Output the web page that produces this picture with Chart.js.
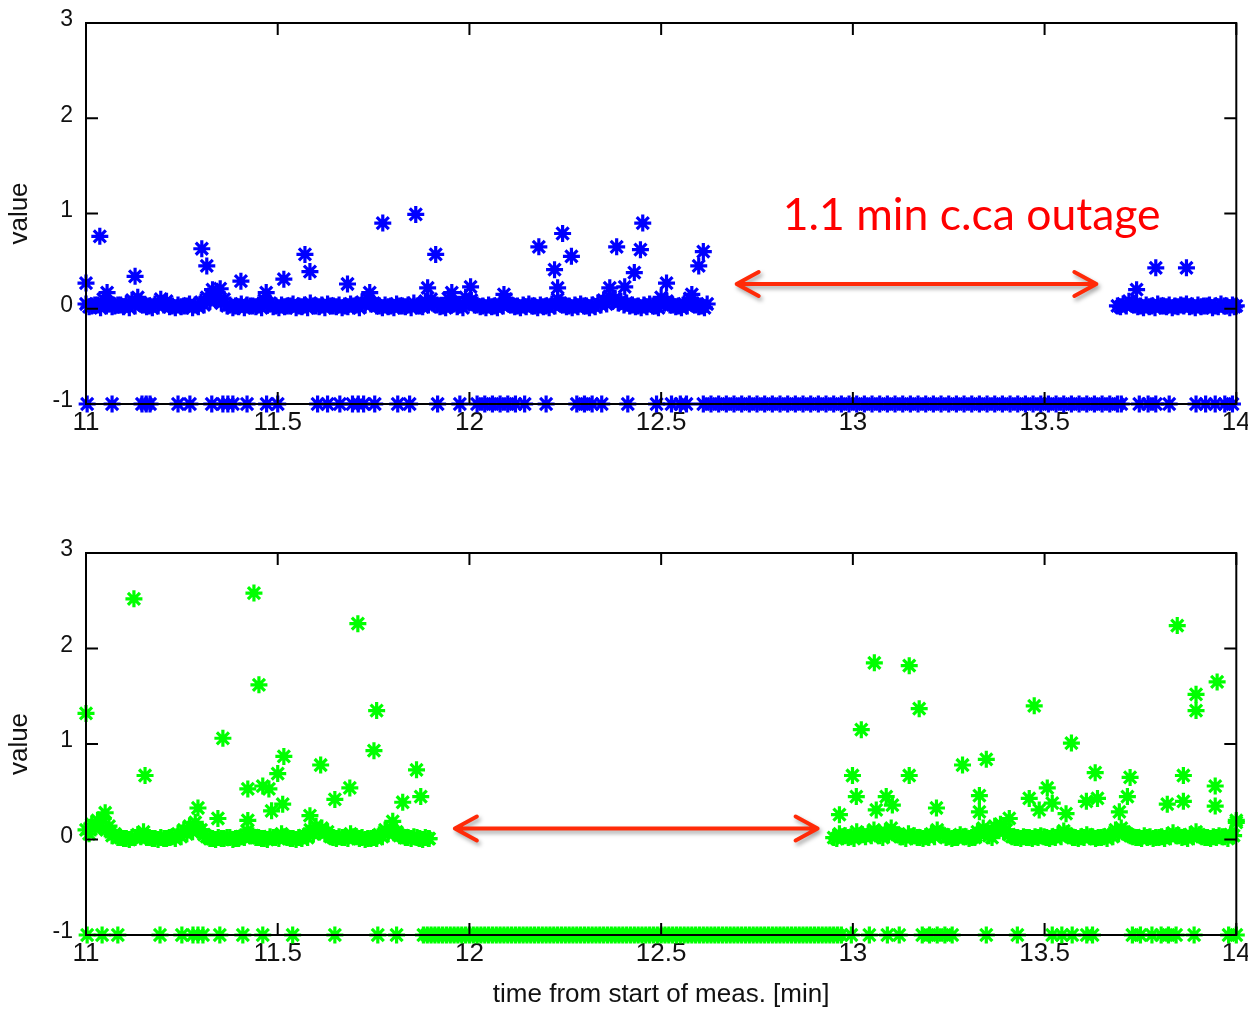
<!DOCTYPE html>
<html lang="en">
<head>
<meta charset="UTF-8">
<title>Outage scatter</title>
<script src="https://cdn.jsdelivr.net/npm/chart.js"></script>
<style>
  body { margin: 0; background: #fff; }
  canvas { position: absolute; left: 0; }
  #topChart { top: 0; }
  #bottomChart { top: 470px; }
</style>
</head>
<body>
<canvas id="topChart" width="1248" height="470"></canvas>
<canvas id="bottomChart" width="1248" height="541"></canvas>

<script>
// ---- top (blue) series ----
const floorValue = -1;

const blueFloorX = [
  11.003, 11.068, 11.146, 11.157, 11.167, 11.240, 11.271, 11.328, 11.357, 11.370,
  11.383, 11.420, 11.471, 11.500, 11.604, 11.630, 11.662, 11.695, 11.710, 11.724,
  11.753, 11.813, 11.844, 11.917, 11.975, 12.020, 12.040, 12.060, 12.080, 12.100,
  12.120, 12.144, 12.200, 12.280, 12.300, 12.320, 12.345, 12.413, 12.488, 12.527,
  12.550, 12.566,
  12.610, 12.630, 12.650, 12.670, 12.690, 12.710, 12.730, 12.750, 12.770, 12.790,
  12.810, 12.830, 12.850, 12.870, 12.890, 12.910, 12.930, 12.950, 12.970, 12.990,
  13.010, 13.030, 13.050, 13.070, 13.090, 13.110, 13.130, 13.150, 13.170, 13.190,
  13.210, 13.230, 13.250, 13.270, 13.290, 13.310, 13.330, 13.350, 13.370, 13.390,
  13.410, 13.430, 13.450, 13.470, 13.490, 13.510, 13.530, 13.550, 13.570, 13.590,
  13.610, 13.630, 13.650, 13.670, 13.690, 13.700,
  13.747, 13.770, 13.790, 13.825, 13.895, 13.920, 13.945, 13.970, 13.990
];

// the dense band near zero, first pass
const blueBandX = [
  11.000, 11.015, 11.030, 11.045, 11.060, 11.075, 11.090, 11.105, 11.120, 11.135,
  11.150, 11.165, 11.180, 11.195, 11.210, 11.225, 11.240, 11.255, 11.270, 11.285,
  11.300, 11.315, 11.330, 11.345, 11.360, 11.375, 11.390, 11.405, 11.420, 11.435,
  11.450, 11.465, 11.480, 11.495, 11.510, 11.525, 11.540, 11.555, 11.570, 11.585,
  11.600, 11.615, 11.630, 11.645, 11.660, 11.675, 11.690, 11.705, 11.720, 11.735,
  11.750, 11.765, 11.780, 11.795, 11.810, 11.825, 11.840, 11.855, 11.870, 11.885,
  11.900, 11.915, 11.930, 11.945, 11.960, 11.975, 11.990, 12.005, 12.020, 12.035,
  12.050, 12.065, 12.080, 12.095, 12.110, 12.125, 12.140, 12.155, 12.170, 12.185,
  12.200, 12.215, 12.230, 12.245, 12.260, 12.275, 12.290, 12.305, 12.320, 12.335,
  12.350, 12.365, 12.380, 12.395, 12.410, 12.425, 12.440, 12.455, 12.470, 12.485,
  12.500, 12.515, 12.530, 12.545, 12.560, 12.575, 12.590, 12.605, 12.620,
  13.690, 13.705, 13.720, 13.735, 13.750, 13.765, 13.780, 13.795, 13.810, 13.825,
  13.840, 13.855, 13.870, 13.885, 13.900, 13.915, 13.930, 13.945, 13.960, 13.975,
  13.990, 14.000
];
const blueBandY = [
  0.05, 0.03, 0.04, 0.10, 0.06, 0.03, 0.04, 0.05, 0.09, 0.12,
  0.04, 0.03, 0.05, 0.10, 0.08, 0.03, 0.04, 0.03, 0.05, 0.04,
  0.07, 0.12, 0.15, 0.13, 0.10, 0.04, 0.03, 0.05, 0.04, 0.03,
  0.04, 0.09, 0.06, 0.03, 0.04, 0.03, 0.05, 0.03, 0.04, 0.06,
  0.03, 0.04, 0.05, 0.03, 0.04, 0.03, 0.05, 0.04, 0.07, 0.11,
  0.06, 0.03, 0.04, 0.03, 0.05, 0.03, 0.04, 0.06, 0.03, 0.08,
  0.10, 0.04, 0.03, 0.11, 0.05, 0.04, 0.12, 0.09, 0.04, 0.03,
  0.04, 0.03, 0.05, 0.10, 0.04, 0.03, 0.04, 0.05, 0.03, 0.04,
  0.03, 0.05, 0.10, 0.04, 0.03, 0.04, 0.05, 0.03, 0.04, 0.06,
  0.09, 0.13, 0.11, 0.08, 0.06, 0.04, 0.03, 0.04, 0.05, 0.03,
  0.12, 0.08, 0.04, 0.03, 0.05, 0.11, 0.04, 0.03, 0.05,
  0.03, 0.05, 0.08, 0.04, 0.03, 0.04, 0.03, 0.05, 0.03, 0.04,
  0.03, 0.04, 0.05, 0.03, 0.04, 0.03, 0.04, 0.03, 0.05, 0.03,
  0.04, 0.03
];
// second pass, sampled in between
const blueBandX2 = [
  11.008, 11.023, 11.038, 11.053, 11.068, 11.083, 11.098, 11.113, 11.128, 11.143,
  11.158, 11.173, 11.188, 11.203, 11.218, 11.233, 11.248, 11.263, 11.278, 11.293,
  11.308, 11.323, 11.338, 11.353, 11.368, 11.383, 11.398, 11.413, 11.428, 11.443,
  11.458, 11.473, 11.488, 11.503, 11.518, 11.533, 11.548, 11.563, 11.578, 11.593,
  11.608, 11.623, 11.638, 11.653, 11.668, 11.683, 11.698, 11.713, 11.728, 11.743,
  11.758, 11.773, 11.788, 11.803, 11.818, 11.833, 11.848, 11.863, 11.878, 11.893,
  11.908, 11.923, 11.938, 11.953, 11.968, 11.983, 11.998, 12.013, 12.028, 12.043,
  12.058, 12.073, 12.088, 12.103, 12.118, 12.133, 12.148, 12.163, 12.178, 12.193,
  12.208, 12.223, 12.238, 12.253, 12.268, 12.283, 12.298, 12.313, 12.328, 12.343,
  12.358, 12.373, 12.388, 12.403, 12.418, 12.433, 12.448, 12.463, 12.478, 12.493,
  12.508, 12.523, 12.538, 12.553, 12.568, 12.583, 12.598, 12.613,
  13.698, 13.713, 13.728, 13.743, 13.758, 13.773, 13.788, 13.803, 13.818, 13.833,
  13.848, 13.863, 13.878, 13.893, 13.908, 13.923, 13.938, 13.953, 13.968, 13.983,
  13.995
];
const blueBandY2 = [
  0.02, 0.04, 0.01, 0.03, 0.02, 0.04, 0.02, 0.01, 0.03, 0.06,
  0.02, 0.01, 0.03, 0.04, 0.02, 0.01, 0.02, 0.03, 0.01, 0.02,
  0.04, 0.08, 0.10, 0.06, 0.03, 0.01, 0.02, 0.01, 0.03, 0.02,
  0.01, 0.04, 0.02, 0.01, 0.02, 0.03, 0.01, 0.02, 0.01, 0.03,
  0.02, 0.01, 0.03, 0.02, 0.01, 0.02, 0.03, 0.01, 0.04, 0.05,
  0.03, 0.01, 0.02, 0.01, 0.03, 0.02, 0.01, 0.03, 0.02, 0.04,
  0.05, 0.02, 0.01, 0.06, 0.02, 0.01, 0.07, 0.04, 0.02, 0.01,
  0.02, 0.01, 0.03, 0.05, 0.02, 0.01, 0.02, 0.03, 0.01, 0.02,
  0.01, 0.03, 0.06, 0.02, 0.01, 0.02, 0.03, 0.01, 0.02, 0.04,
  0.05, 0.08, 0.06, 0.04, 0.03, 0.02, 0.01, 0.02, 0.03, 0.01,
  0.06, 0.04, 0.02, 0.01, 0.03, 0.06, 0.02, 0.01,
  0.02, 0.03, 0.05, 0.02, 0.01, 0.02, 0.01, 0.03, 0.02, 0.01,
  0.02, 0.03, 0.02, 0.01, 0.02, 0.03, 0.01, 0.02, 0.03, 0.01,
  0.02
];

const blueSpikes = [
  [11.000, 0.27], [11.036, 0.76], [11.055, 0.17], [11.128, 0.34], [11.302, 0.63],
  [11.315, 0.45], [11.330, 0.20], [11.350, 0.21], [11.404, 0.29], [11.470, 0.17],
  [11.516, 0.31], [11.571, 0.57], [11.584, 0.39], [11.682, 0.26], [11.740, 0.17],
  [11.774, 0.90], [11.860, 0.99], [11.891, 0.22], [11.912, 0.57], [11.954, 0.17],
  [12.003, 0.23], [12.090, 0.15], [12.181, 0.65], [12.222, 0.41], [12.230, 0.22],
  [12.243, 0.79], [12.266, 0.55], [12.366, 0.22], [12.384, 0.65], [12.405, 0.23],
  [12.430, 0.38], [12.446, 0.62], [12.452, 0.90], [12.514, 0.27], [12.580, 0.15],
  [12.598, 0.45], [12.610, 0.60], [13.740, 0.20], [13.790, 0.43], [13.870, 0.43]
];

// ---- bottom (green) series ----
const greenFloorX = [
  11.003, 11.042, 11.083, 11.193, 11.250, 11.279, 11.292, 11.305, 11.349, 11.409,
  11.461, 11.539, 11.649, 11.761, 11.810,
  11.88, 11.89, 11.90, 11.91, 11.92, 11.93, 11.94, 11.95, 11.96, 11.97,
  11.98, 11.99, 12.00, 12.01, 12.02, 12.03, 12.04, 12.05, 12.06, 12.07,
  12.08, 12.09, 12.10, 12.11, 12.12, 12.13, 12.14, 12.15, 12.16, 12.17,
  12.18, 12.19, 12.20, 12.21, 12.22, 12.23, 12.24, 12.25, 12.26, 12.27,
  12.28, 12.29, 12.30, 12.31, 12.32, 12.33, 12.34, 12.35, 12.36, 12.37,
  12.38, 12.39, 12.40, 12.41, 12.42, 12.43, 12.44, 12.45, 12.46, 12.47,
  12.48, 12.49, 12.50, 12.51, 12.52, 12.53, 12.54, 12.55, 12.56, 12.57,
  12.58, 12.59, 12.60, 12.61, 12.62, 12.63, 12.64, 12.65, 12.66, 12.67,
  12.68, 12.69, 12.70, 12.71, 12.72, 12.73, 12.74, 12.75, 12.76, 12.77,
  12.78, 12.79, 12.80, 12.81, 12.82, 12.83, 12.84, 12.85, 12.86, 12.87,
  12.88, 12.89, 12.90, 12.91, 12.92, 12.93, 12.94, 12.95, 12.96, 12.97,
  12.996, 13.043, 13.090, 13.121, 13.181, 13.200, 13.220, 13.240, 13.259, 13.348,
  13.429, 13.520, 13.545, 13.572, 13.610, 13.625, 13.729, 13.750, 13.780, 13.804,
  13.823, 13.843, 13.890, 13.980, 14.000
];

const greenBandX = [
  11.000, 11.015, 11.030, 11.045, 11.060, 11.075, 11.090, 11.105, 11.120, 11.135,
  11.150, 11.165, 11.180, 11.195, 11.210, 11.225, 11.240, 11.255, 11.270, 11.285,
  11.300, 11.315, 11.330, 11.345, 11.360, 11.375, 11.390, 11.405, 11.420, 11.435,
  11.450, 11.465, 11.480, 11.495, 11.510, 11.525, 11.540, 11.555, 11.570, 11.585,
  11.600, 11.615, 11.630, 11.645, 11.660, 11.675, 11.690, 11.705, 11.720, 11.735,
  11.750, 11.765, 11.780, 11.795, 11.810, 11.825, 11.840, 11.855, 11.870, 11.885,
  11.895,
  12.950, 12.965, 12.980, 12.995, 13.010, 13.025, 13.040, 13.055, 13.070, 13.085,
  13.100, 13.115, 13.130, 13.145, 13.160, 13.175, 13.190, 13.205, 13.220, 13.235,
  13.250, 13.265, 13.280, 13.295, 13.310, 13.325, 13.340, 13.355, 13.370, 13.385,
  13.400, 13.415, 13.430, 13.445, 13.460, 13.475, 13.490, 13.505, 13.520, 13.535,
  13.550, 13.565, 13.580, 13.595, 13.610, 13.625, 13.640, 13.655, 13.670, 13.685,
  13.700, 13.715, 13.730, 13.745, 13.760, 13.775, 13.790, 13.805, 13.820, 13.835,
  13.850, 13.865, 13.880, 13.895, 13.910, 13.925, 13.940, 13.955, 13.970, 13.985,
  14.000
];
const greenBandY = [
  0.10, 0.16, 0.20, 0.22, 0.14, 0.06, 0.02, 0.01, 0.02, 0.05,
  0.08, 0.02, 0.01, 0.02, 0.01, 0.03, 0.06, 0.10, 0.14, 0.18,
  0.10, 0.03, 0.01, 0.02, 0.01, 0.02, 0.01, 0.03, 0.09, 0.04,
  0.02, 0.01, 0.03, 0.02, 0.06, 0.02, 0.01, 0.02, 0.04, 0.10,
  0.14, 0.12, 0.08, 0.02, 0.03, 0.02, 0.06, 0.03, 0.02, 0.01,
  0.02, 0.05, 0.10, 0.12, 0.08, 0.04, 0.02, 0.03, 0.01, 0.02,
  0.01,
  0.02, 0.06, 0.04, 0.03, 0.08, 0.05, 0.06, 0.10, 0.04, 0.08,
  0.12, 0.05, 0.03, 0.06, 0.04, 0.02, 0.03, 0.06, 0.10, 0.05,
  0.03, 0.02, 0.05, 0.03, 0.02, 0.08, 0.12, 0.04, 0.14, 0.16,
  0.10, 0.03, 0.02, 0.03, 0.02, 0.03, 0.04, 0.02, 0.03, 0.05,
  0.09, 0.04, 0.02, 0.03, 0.05, 0.03, 0.02, 0.03, 0.05, 0.10,
  0.12, 0.06, 0.03, 0.02, 0.04, 0.03, 0.02, 0.03, 0.04, 0.07,
  0.04, 0.03, 0.05, 0.08, 0.03, 0.02, 0.03, 0.04, 0.03, 0.05,
  0.18
];
const greenBandX2 = [
  11.008, 11.023, 11.038, 11.053, 11.068, 11.083, 11.098, 11.113, 11.128, 11.143,
  11.158, 11.173, 11.188, 11.203, 11.218, 11.233, 11.248, 11.263, 11.278, 11.293,
  11.308, 11.323, 11.338, 11.353, 11.368, 11.383, 11.398, 11.413, 11.428, 11.443,
  11.458, 11.473, 11.488, 11.503, 11.518, 11.533, 11.548, 11.563, 11.578, 11.593,
  11.608, 11.623, 11.638, 11.653, 11.668, 11.683, 11.698, 11.713, 11.728, 11.743,
  11.758, 11.773, 11.788, 11.803, 11.818, 11.833, 11.848, 11.863, 11.878, 11.893,
  12.958, 12.973, 12.988, 13.003, 13.018, 13.033, 13.048, 13.063, 13.078, 13.093,
  13.108, 13.123, 13.138, 13.153, 13.168, 13.183, 13.198, 13.213, 13.228, 13.243,
  13.258, 13.273, 13.288, 13.303, 13.318, 13.333, 13.348, 13.363, 13.378, 13.393,
  13.408, 13.423, 13.438, 13.453, 13.468, 13.483, 13.498, 13.513, 13.528, 13.543,
  13.558, 13.573, 13.588, 13.603, 13.618, 13.633, 13.648, 13.663, 13.678, 13.693,
  13.708, 13.723, 13.738, 13.753, 13.768, 13.783, 13.798, 13.813, 13.828, 13.843,
  13.858, 13.873, 13.888, 13.903, 13.918, 13.933, 13.948, 13.963, 13.978, 13.993
];
const greenBandY2 = [
  0.06, 0.12, 0.14, 0.10, 0.04, 0.02, 0.01, 0.00, 0.02, 0.03,
  0.02, 0.01, 0.00, 0.01, 0.02, 0.01, 0.03, 0.06, 0.08, 0.10,
  0.05, 0.01, 0.00, 0.01, 0.02, 0.00, 0.01, 0.02, 0.04, 0.02,
  0.01, 0.00, 0.02, 0.01, 0.03, 0.01, 0.00, 0.01, 0.02, 0.06,
  0.08, 0.06, 0.03, 0.01, 0.02, 0.01, 0.03, 0.01, 0.00, 0.01,
  0.01, 0.03, 0.06, 0.07, 0.04, 0.02, 0.01, 0.02, 0.00, 0.01,
  0.01, 0.03, 0.02, 0.01, 0.04, 0.03, 0.04, 0.06, 0.02, 0.05,
  0.07, 0.03, 0.01, 0.03, 0.02, 0.01, 0.02, 0.03, 0.06, 0.02,
  0.01, 0.02, 0.03, 0.01, 0.02, 0.05, 0.08, 0.02, 0.10, 0.08,
  0.05, 0.02, 0.01, 0.02, 0.01, 0.02, 0.03, 0.01, 0.02, 0.03,
  0.06, 0.02, 0.01, 0.02, 0.03, 0.01, 0.02, 0.01, 0.03, 0.06,
  0.08, 0.04, 0.02, 0.01, 0.02, 0.01, 0.02, 0.01, 0.03, 0.04,
  0.02, 0.01, 0.03, 0.05, 0.02, 0.01, 0.02, 0.03, 0.01, 0.04
];

const greenSpikes = [
  [11.000, 1.32], [11.050, 0.28], [11.125, 2.52], [11.154, 0.67], [11.292, 0.33],
  [11.344, 0.22], [11.357, 1.06], [11.422, 0.53], [11.422, 0.20], [11.438, 2.58],
  [11.451, 1.62], [11.461, 0.56], [11.477, 0.53], [11.484, 0.30], [11.500, 0.69],
  [11.513, 0.37], [11.516, 0.87], [11.584, 0.25], [11.612, 0.78], [11.649, 0.42],
  [11.688, 0.54], [11.709, 2.26], [11.751, 0.93], [11.758, 1.35], [11.800, 0.19],
  [11.826, 0.39], [11.862, 0.73], [11.873, 0.45],
  [12.965, 0.26], [12.999, 0.67], [13.009, 0.45], [13.022, 1.15], [13.056, 1.85],
  [13.061, 0.31], [13.087, 0.45], [13.103, 0.36], [13.147, 1.82], [13.147, 0.67],
  [13.173, 1.37], [13.218, 0.33], [13.286, 0.78], [13.330, 0.46], [13.330, 0.29],
  [13.348, 0.84], [13.408, 0.22], [13.460, 0.43], [13.473, 1.40], [13.486, 0.31],
  [13.507, 0.54], [13.520, 0.38], [13.556, 0.27], [13.570, 1.01], [13.609, 0.40],
  [13.632, 0.70], [13.638, 0.43], [13.695, 0.29], [13.716, 0.45], [13.723, 0.65],
  [13.820, 0.37], [13.846, 2.24], [13.862, 0.67], [13.862, 0.40], [13.895, 1.52],
  [13.895, 1.35], [13.945, 0.56], [13.945, 0.35], [13.950, 1.65], [14.000, 0.20]
];

// annotations (in data units)
const topArrow = { from: 12.697, to: 13.635, at: 0.26 };
const topNote = { text: '1.1 min c.ca outage', x: 12.817, y: 0.83 };
const bottomArrow = { from: 11.962, to: 12.908, at: 0.115 };

const zip = (xs, ys) => xs.map((x, i) => ({ x: x, y: ys[i] }));
const onFloor = xs => xs.map(x => ({ x: x, y: floorValue }));
const pairs = list => list.map(p => ({ x: p[0], y: p[1] }));

const xTickFont = { family: 'Liberation Sans', size: 26 };
const yTickFont = { family: 'Liberation Sans', size: 23 };
const titleFont = { family: 'Liberation Sans', size: 26 };

// matlab-ish box with inward ticks, plus the red arrows/note
const boxPlugin = {
  id: 'box',
  afterDatasetsDraw(chart, args, opts) {
    const ctx = chart.ctx;
    const { left, top, right, bottom } = chart.chartArea;
    const xs = chart.scales.x, ys = chart.scales.y;
    ctx.save();
    ctx.strokeStyle = '#000';
    ctx.lineWidth = 2;
    ctx.strokeRect(left, top, right - left, bottom - top);
    ctx.beginPath();
    xs.ticks.forEach(t => {
      const px = xs.getPixelForValue(t.value);
      ctx.moveTo(px, bottom); ctx.lineTo(px, bottom - 12);
      ctx.moveTo(px, top); ctx.lineTo(px, top + 12);
    });
    ys.ticks.forEach(t => {
      const py = ys.getPixelForValue(t.value);
      ctx.moveTo(left, py); ctx.lineTo(left + 12, py);
      ctx.moveTo(right, py); ctx.lineTo(right - 12, py);
    });
    ctx.stroke();
    ctx.restore();

    if (opts.arrow) {
      const a = opts.arrow;
      const x1 = xs.getPixelForValue(a.from), x2 = xs.getPixelForValue(a.to);
      const y = ys.getPixelForValue(a.at);
      ctx.save();
      ctx.strokeStyle = '#ff2a08';
      ctx.lineWidth = 4;
      ctx.lineCap = 'round';
      ctx.lineJoin = 'round';
      ctx.shadowColor = 'rgba(0,0,0,0.35)';
      ctx.shadowBlur = 4;
      ctx.shadowOffsetX = 2;
      ctx.shadowOffsetY = 3;
      ctx.beginPath();
      ctx.moveTo(x1, y); ctx.lineTo(x2, y);
      ctx.moveTo(x1 + 22, y - 12); ctx.lineTo(x1, y); ctx.lineTo(x1 + 22, y + 12);
      ctx.moveTo(x2 - 22, y - 12); ctx.lineTo(x2, y); ctx.lineTo(x2 - 22, y + 12);
      ctx.stroke();
      ctx.restore();
    }
    if (opts.note) {
      const n = opts.note;
      ctx.save();
      ctx.fillStyle = '#ff0000';
      ctx.font = '44.5px Lato';
      ctx.textAlign = 'left';
      ctx.textBaseline = 'alphabetic';
      ctx.fillText(n.text, xs.getPixelForValue(n.x), ys.getPixelForValue(n.y));
      ctx.restore();
    }
  }
};

function starSet(data, color) {
  return {
    data: data,
    pointStyle: 'star',
    pointRadius: 8.5,
    pointHoverRadius: 8.5,
    borderWidth: 3.2,
    borderColor: color,
    backgroundColor: color,
    clip: false
  };
}

function makeChart(id, datasets, axisHeight, showXTitle, extra) {
  return new Chart(document.getElementById(id), {
    type: 'scatter',
    data: { datasets: datasets },
    plugins: [boxPlugin],
    options: {
      responsive: false,
      animation: false,
      events: [],
      layout: { padding: { top: extra.padTop, right: 11, bottom: 0, left: 0 } },
      plugins: {
        legend: { display: false },
        tooltip: { enabled: false },
        box: extra
      },
      scales: {
        x: {
          type: 'linear', min: 11, max: 14,
          ticks: {
            stepSize: 0.5, padding: 3, font: xTickFont, color: '#111', maxRotation: 0, autoSkip: false,
            callback: v => String(Math.round(v * 10) / 10)
          },
          grid: { display: false, drawTicks: false },
          border: { display: false },
          title: { display: showXTitle, text: 'time from start of meas. [min]', font: titleFont, color: '#111', padding: { top: 0, bottom: 1 } },
          afterFit(s) { s.height = axisHeight; s.paddingLeft = 0; s.paddingRight = 0; }
        },
        y: {
          type: 'linear', min: -1, max: 3,
          ticks: { stepSize: 1, padding: 13, labelOffset: -3, font: yTickFont, color: '#111' },
          grid: { display: false, drawTicks: false },
          border: { display: false },
          title: { display: true, text: 'value', font: titleFont, color: '#111', padding: { top: 4, bottom: 0 } },
          afterFit(s) { s.width = 86; s.paddingTop = 0; s.paddingBottom = 0; }
        }
      }
    }
  });
}

makeChart('topChart', [
  starSet(onFloor(blueFloorX), '#0000ff'),
  starSet(zip(blueBandX, blueBandY), '#0000ff'),
  starSet(zip(blueBandX2, blueBandY2), '#0000ff'),
  starSet(pairs(blueSpikes), '#0000ff')
], 66, false, { padTop: 23, arrow: topArrow, note: topNote });

makeChart('bottomChart', [
  starSet(onFloor(greenFloorX), '#00ff00'),
  starSet(zip(greenBandX, greenBandY), '#00ff00'),
  starSet(zip(greenBandX2, greenBandY2), '#00ff00'),
  starSet(pairs(greenSpikes), '#00ff00')
], 76, true, { padTop: 83, arrow: bottomArrow });
</script>
</body>
</html>
